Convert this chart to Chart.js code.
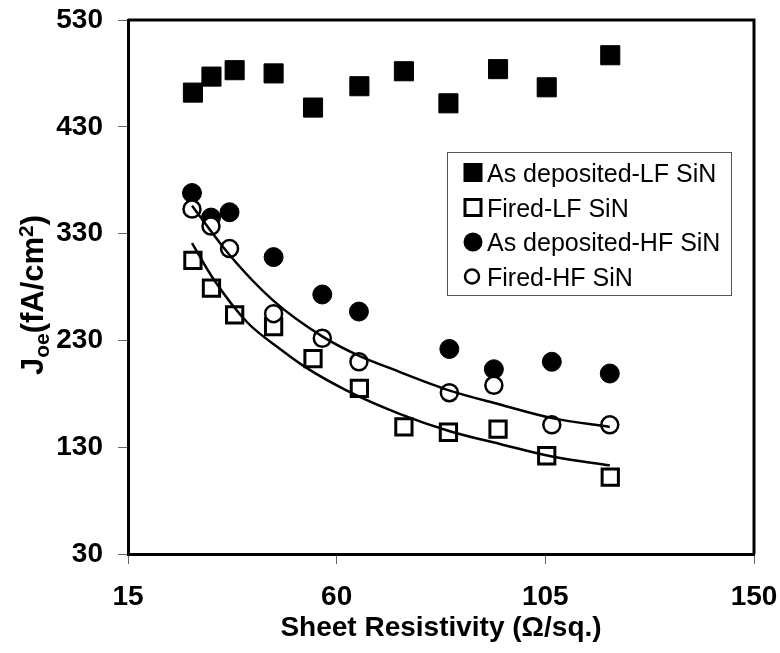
<!DOCTYPE html>
<html lang="en">
<head>
    <meta charset="UTF-8">
    <title>Joe vs Sheet Resistivity</title>
    <script src="https://cdn.jsdelivr.net/npm/chart.js"></script>
    <style>
        body { margin: 0; background: #fff; }
        #wrap { width: 780px; height: 653px; }
    </style>
</head>
<body>
    <div id="wrap"><canvas id="joeChart" width="780" height="653"></canvas></div>

    <script>
        // Sheet resistivity (ohm/sq) for LF and HF samples
        const resLF = [29, 33, 38, 46.4, 54.9, 64.9, 74.5, 84.1, 94.8, 105.3, 119];
        const resHF = [28.8, 32.9, 36.9, 46.4, 56.9, 64.8, 84.3, 93.9, 106.4, 118.9];

        // Joe (fA/cm2)
        const asDepLF = [462, 477, 483, 480, 448, 468, 482, 452, 484, 467, 497];
        const firedLF = [305, 279, 254, 243, 213, 185, 149, 144, 147, 122, 102];
        const asDepHF = [368, 345, 350, 308, 273, 257, 222, 203, 210, 199];
        const firedHF = [353, 337, 316, 255, 232, 210, 181, 188, 151, 151];

        // trend lines through the fired samples
        const trendLFx = [28.8, 33.5, 40.7, 47.8, 53.6, 62.2, 73.7, 84.4, 95.2, 106.7, 118.9];
        const trendLFy = [321, 287, 247, 222, 204, 183, 161, 145, 133, 121, 113];
        const trendHFx = [28.8, 36.9, 46.4, 56.8, 65.1, 71.5, 84.4, 95.2, 106.7, 118.9];
        const trendHFy = [356, 310, 267, 234, 215, 204, 183, 170, 157, 149];

        const xTicks = [15, 60, 105, 150];
        const yTicks = [30, 130, 230, 330, 430, 530];

        const seriesNames = ['As deposited-LF SiN', 'Fired-LF SiN', 'As deposited-HF SiN', 'Fired-HF SiN'];

        const toPoints = (xs, ys) => xs.map((x, i) => ({ x: x, y: ys[i] }));
        const FONT = '"Liberation Sans", Arial, sans-serif';

        // frame, axis titles and the boxed legend
        const decorations = {
            id: 'decorations',
            afterDraw(chart) {
                const ctx = chart.ctx;
                const a = chart.chartArea;
                ctx.save();

                // top and right edges of the plot frame
                ctx.strokeStyle = '#000';
                ctx.lineWidth = 3;
                ctx.beginPath();
                ctx.moveTo(a.left, a.top);
                ctx.lineTo(a.right, a.top);
                ctx.lineTo(a.right, a.bottom);
                ctx.stroke();

                // x axis title
                ctx.fillStyle = '#000';
                ctx.font = 'bold 28px ' + FONT;
                ctx.textAlign = 'center';
                ctx.textBaseline = 'alphabetic';
                ctx.fillText('Sheet Resistivity (\u03A9/sq.)', 441, 636);

                // y axis title with subscript and superscript
                const parts = [
                    { t: 'J', size: 31, dy: 0 },
                    { t: 'oe', size: 21, dy: 6 },
                    { t: '(fA/cm', size: 31, dy: 0 },
                    { t: '2', size: 21, dy: -10 },
                    { t: ')', size: 31, dy: 0 }
                ];
                let total = 0;
                parts.forEach(p => {
                    ctx.font = 'bold ' + p.size + 'px ' + FONT;
                    p.w = ctx.measureText(p.t).width;
                    total += p.w;
                });
                ctx.translate(43, 295);
                ctx.rotate(-Math.PI / 2);
                ctx.textAlign = 'left';
                let px = -total / 2;
                parts.forEach(p => {
                    ctx.font = 'bold ' + p.size + 'px ' + FONT;
                    ctx.fillText(p.t, px, p.dy);
                    px += p.w;
                });
                ctx.setTransform(1, 0, 0, 1, 0, 0);

                // legend box
                ctx.fillStyle = '#fff';
                ctx.fillRect(447.5, 152.5, 284, 143);
                ctx.strokeStyle = '#555';
                ctx.lineWidth = 1;
                ctx.strokeRect(447.5, 152.5, 284, 143);

                const rows = [172.5, 207.5, 242, 276.5];
                const mx = 473;
                ctx.font = '25px ' + FONT;
                ctx.textBaseline = 'alphabetic';
                seriesNames.forEach((name, i) => {
                    const cy = rows[i];
                    ctx.fillStyle = '#000';
                    ctx.strokeStyle = '#000';
                    if (i === 0) {
                        ctx.fillRect(mx - 9.5, cy - 9.5, 19, 19);
                    } else if (i === 1) {
                        ctx.lineWidth = 3;
                        ctx.strokeRect(mx - 8, cy - 8, 16, 16);
                    } else if (i === 2) {
                        ctx.beginPath();
                        ctx.arc(mx, cy, 9.5, 0, Math.PI * 2);
                        ctx.fill();
                    } else {
                        ctx.lineWidth = 2.5;
                        ctx.beginPath();
                        ctx.arc(mx - 1, cy, 7, 0, Math.PI * 2);
                        ctx.stroke();
                    }
                    ctx.fillStyle = '#000';
                    ctx.fillText(name, 487, cy + 9.3);
                });
                ctx.restore();
            }
        };

        const trendStyle = {
            showLine: true,
            borderColor: '#000',
            borderWidth: 2.5,
            pointRadius: 0,
            cubicInterpolationMode: 'monotone',
            fill: false
        };

        new Chart(document.getElementById('joeChart'), {
            type: 'scatter',
            data: {
                datasets: [
                    Object.assign({ label: 'trend HF', data: toPoints(trendHFx, trendHFy) }, trendStyle),
                    Object.assign({ label: 'trend LF', data: toPoints(trendLFx, trendLFy) }, trendStyle),
                    {
                        label: seriesNames[3],
                        data: toPoints(resHF, firedHF),
                        pointStyle: 'circle',
                        pointRadius: 8.5,
                        backgroundColor: '#fff',
                        borderColor: '#000',
                        borderWidth: 2.5
                    },
                    {
                        label: seriesNames[2],
                        data: toPoints(resHF, asDepHF),
                        pointStyle: 'circle',
                        pointRadius: 9.5,
                        backgroundColor: '#000',
                        borderColor: '#000',
                        borderWidth: 1
                    },
                    {
                        label: seriesNames[1],
                        data: toPoints(resLF, firedLF),
                        pointStyle: 'rect',
                        pointRadius: 11.5,
                        backgroundColor: '#fff',
                        borderColor: '#000',
                        borderWidth: 3
                    },
                    {
                        label: seriesNames[0],
                        data: toPoints(resLF, asDepLF),
                        pointStyle: 'rect',
                        pointRadius: 13.5,
                        backgroundColor: '#000',
                        borderColor: '#000',
                        borderWidth: 1
                    }
                ]
            },
            options: {
                responsive: false,
                animation: false,
                layout: { padding: { top: 20, right: 26, left: 0, bottom: 0 } },
                plugins: {
                    legend: { display: false },
                    tooltip: { enabled: false }
                },
                scales: {
                    x: {
                        type: 'linear',
                        min: xTicks[0],
                        max: xTicks[xTicks.length - 1],
                        afterBuildTicks: s => { s.ticks = xTicks.map(v => ({ value: v })); },
                        afterFit: s => {
                            s.height = 99;
                            s.paddingLeft = 0;
                            s.paddingRight = 0;
                        },
                        ticks: {
                            color: '#000',
                            font: { family: FONT, size: 28, weight: 'bold' },
                            padding: 16,
                            maxRotation: 0,
                            autoSkip: false
                        },
                        grid: { drawOnChartArea: false, tickLength: 10, color: '#666', lineWidth: 1 },
                        border: { color: '#000', width: 3 }
                    },
                    y: {
                        type: 'linear',
                        min: yTicks[0],
                        max: yTicks[yTicks.length - 1],
                        afterBuildTicks: s => { s.ticks = yTicks.map(v => ({ value: v })); },
                        afterFit: s => {
                            s.width = 128;
                            s.paddingTop = 0;
                            s.paddingBottom = 0;
                        },
                        ticks: {
                            color: '#000',
                            font: { family: FONT, size: 28, weight: 'bold' },
                            padding: 15,
                            autoSkip: false
                        },
                        grid: { drawOnChartArea: false, tickLength: 10, color: '#666', lineWidth: 1 },
                        border: { color: '#000', width: 3 }
                    }
                }
            },
            plugins: [decorations]
        });
    </script>
</body>
</html>
